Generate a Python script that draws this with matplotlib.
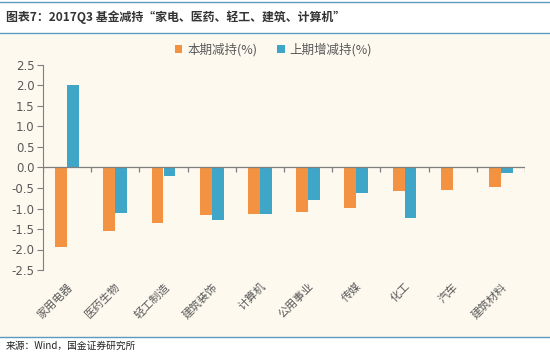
import numpy as np
import matplotlib
matplotlib.use("Agg")
import matplotlib.pyplot as plt
from matplotlib.patches import Rectangle
from matplotlib.lines import Line2D

plt.rcParams['font.family'] = ['Noto Sans CJK SC', 'DejaVu Sans']
plt.rcParams['axes.unicode_minus'] = False

# data
categories = ['家用电器', '医药生物', '轻工制造', '建筑装饰', '计算机',
              '公用事业', '传媒', '化工', '汽车', '建筑材料']
cur_reduce = [-1.93, -1.54, -1.36, -1.15, -1.13, -1.09, -0.98, -0.58, -0.56, -0.48]
prev_change = [2.02, -1.10, -0.21, -1.29, -1.13, -0.80, -0.62, -1.23, 0.0, -0.14]
series_names = ['本期减持(%)', '上期增减持(%)']
yticks = [2.5, 2.0, 1.5, 1.0, 0.5, 0.0, -0.5, -1.0, -1.5, -2.0, -2.5]

title = '图表7：2017Q3 基金减持“家电、医药、轻工、建筑、计算机”'
source = '来源：Wind，国金证券研究所'

orange = '#F39341'
blue = '#3FA6C7'
cream = '#FDF9EF'
grey = '#595959'

fig = plt.figure(figsize=(5.5, 3.54), dpi=100, facecolor='white')

# cream panel and the blue rules
fig.patches.append(Rectangle((0, 17 / 354), 1, 1 - 17 / 354 - 35 / 354,
                             transform=fig.transFigure, facecolor=cream,
                             edgecolor='none', zorder=-5))
for yy in [1 - 1.5 / 354, 1 - 33 / 354, 17 / 354]:
    fig.lines.append(Line2D([0, 1], [yy, yy], transform=fig.transFigure,
                            color='#5B9BBE', lw=1.0, zorder=-4))

fig.text(0.01, 1 - 17 / 354, title, fontsize=8.6, fontweight='bold',
         style='italic', color='#333333', va='center', ha='left')
fig.text(0.01, 8 / 354, source, fontsize=7, color='#222222',
         va='center', ha='left')

ax = fig.add_axes([43 / 550, 84 / 354, 482 / 550, 205 / 354])
ax.set_facecolor('none')

x = np.arange(len(categories))
w = 0.245
ax.bar(x - w / 2, cur_reduce, w, color=orange, label=series_names[0], zorder=2)
ax.bar(x + w / 2, prev_change, w, color=blue, label=series_names[1], zorder=2)

ax.set_xlim(-0.5, len(categories) - 0.5)
ax.set_ylim(-2.5, 2.5)
ax.set_yticks(yticks)
ax.set_yticklabels(['%.1f' % v for v in yticks], fontsize=8.5, color=grey,
                   family=['DejaVu Sans'])
ax.tick_params(axis='y', length=4, color='#7F7F7F', pad=2)

ax.set_xticks(x)
ax.set_xticklabels(categories, rotation=45, ha='right', va='top',
                   rotation_mode='anchor', fontsize=8, color=grey)
ax.tick_params(axis='x', length=0, pad=8)

for s in ['top', 'right', 'bottom']:
    ax.spines[s].set_visible(False)
ax.spines['left'].set_color('#7F7F7F')

# zero line with category boundary ticks
ax.axhline(0, color='#7F7F7F', lw=0.9, zorder=3)
bounds = np.arange(len(categories) + 1) - 0.5
ax.vlines(bounds, -0.1, 0, color='#7F7F7F', lw=0.9, zorder=3)

leg = ax.legend(loc='lower center', bbox_to_anchor=(0.478, 0.985), ncol=2,
                frameon=False, fontsize=9, handlelength=0.6,
                handleheight=0.6, handletextpad=0.4, columnspacing=1.6)
for t in leg.get_texts():
    t.set_color(grey)

fig.savefig('out.png', dpi=100, facecolor=fig.get_facecolor())
